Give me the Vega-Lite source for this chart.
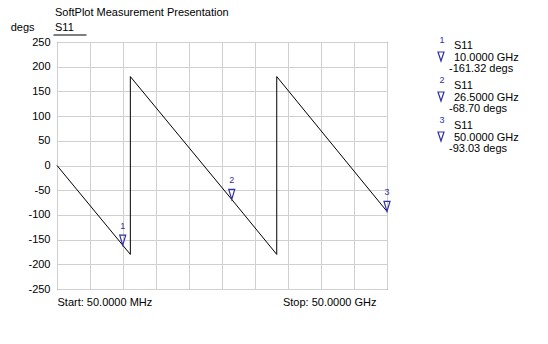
{
  "$schema": "https://vega.github.io/schema/vega-lite/v6.json",
  "padding": {"left": 9, "top": 6, "right": 5, "bottom": 5},
  "bounds": "flush",
  "spacing": 54,
  "background": "white",
  "datasets": {
    "trace": [
      {"i": 0, "trace": "S11", "f": 0.05, "phase": 0},
      {"i": 1, "trace": "S11", "f": 10, "phase": -161.32},
      {"i": 2, "trace": "S11", "f": 11.15, "phase": -180},
      {"i": 3, "trace": "S11", "f": 11.15, "phase": 180},
      {"i": 4, "trace": "S11", "f": 26.5, "phase": -68.7},
      {"i": 5, "trace": "S11", "f": 33.31, "phase": -180},
      {"i": 6, "trace": "S11", "f": 33.31, "phase": 180},
      {"i": 7, "trace": "S11", "f": 50, "phase": -93.03}
    ],
    "markers": [
      {"m": 1, "trace": "S11", "f": 10, "v": -161.32, "freq": "10.0000 GHz", "val": "-161.32 degs"},
      {"m": 2, "trace": "S11", "f": 26.5, "v": -68.7, "freq": "26.5000 GHz", "val": "-68.70 degs"},
      {"m": 3, "trace": "S11", "f": 50, "v": -93.03, "freq": "50.0000 GHz", "val": "-93.03 degs"}
    ]
  },
  "config": {
    "font": "Liberation Sans",
    "view": {"stroke": null},
    "axis": {"labelFontSize": 11, "labelColor": "#000", "titleColor": "#000", "gridColor": "#d0d0d0", "gridWidth": 1}
  },
  "hconcat": [
    {
      "width": 330,
      "height": 247,
      "view": {"stroke": "#333", "strokeWidth": 1},
      "title": {
        "text": "SoftPlot Measurement Presentation",
        "subtitle": "S11",
        "anchor": "start",
        "frame": "group",
        "fontSize": 11,
        "fontWeight": "normal",
        "color": "#000",
        "subtitleFontSize": 11,
        "subtitleColor": "#000",
        "subtitlePadding": 4,
        "offset": -12,
        "dx": -2
      },
      "layer": [
        {
          "data": {"name": "trace"},
          "mark": {"type": "line", "strokeWidth": 1},
          "encoding": {
            "x": {
              "field": "f", "type": "quantitative",
              "scale": {"domain": [0.05, 50], "nice": false, "zero": false},
              "axis": {
                "values": [0.05, 5.045, 10.04, 15.035, 20.03, 25.025, 30.02, 35.015, 40.01, 45.005, 50],
                "tickCount": 30,
                "grid": true, "ticks": false, "domain": false, "title": null,
                "labelExpr": "datum.value < 1 ? 'Start: 50.0000 MHz' : (datum.value > 49 ? 'Stop: 50.0000 GHz' : '')",
                "labelFlush": true, "labelOverlap": false, "labelBound": false,
                "labelPadding": 7,
                "labelOffset": {"condition": {"test": "datum.value > 49", "value": -11}, "value": 0}
              }
            },
            "y": {
              "field": "phase", "type": "quantitative",
              "scale": {"domain": [-250, 250], "nice": false, "zero": false},
              "axis": {
                "values": [-250, -200, -150, -100, -50, 0, 50, 100, 150, 200, 250],
                "tickCount": 30,
                "labelExpr": "'' + datum.value",
                "labelOverlap": false,
                "grid": true, "ticks": false, "domain": false, "labelPadding": 7,
                "title": "degs", "titleAngle": 0, "titleAlign": "right", "titleBaseline": "middle",
                "titleX": -23, "titleY": -15, "titleFontWeight": "normal", "titleFontSize": 11
              }
            },
            "order": {"field": "i", "type": "quantitative"},
            "color": {
              "field": "trace", "type": "nominal",
              "scale": {"range": ["#000000"]},
              "legend": {
                "orient": "none", "legendX": -4, "legendY": -24, "title": null,
                "labelExpr": "''", "symbolType": "stroke", "symbolSize": 1089,
                "symbolStrokeWidth": 1, "padding": 0, "symbolOffset": 0
              }
            }
          }
        },
        {
          "data": {"name": "markers"},
          "mark": {"type": "point", "shape": "M-0.3,-1L0.3,-1L0,0Z", "size": 400, "filled": false, "color": "#3030a8", "strokeWidth": 1.2, "opacity": 1},
          "encoding": {
            "x": {"field": "f", "type": "quantitative"},
            "y": {"field": "v", "type": "quantitative"}
          }
        },
        {
          "data": {"name": "markers"},
          "mark": {"type": "text", "dy": -19, "fontSize": 9, "color": "#3030a8", "baseline": "middle", "align": "center"},
          "encoding": {
            "x": {"field": "f", "type": "quantitative"},
            "y": {"field": "v", "type": "quantitative"},
            "text": {"field": "m", "type": "nominal"}
          }
        }
      ]
    },
    {
      "width": 100,
      "height": 120,
      "data": {"name": "markers"},
      "encoding": {
        "y": {"field": "m", "type": "ordinal", "axis": null},
        "x": {"datum": 0, "type": "quantitative", "scale": {"domain": [0, 1]}, "axis": null}
      },
      "layer": [
        {
          "mark": {"type": "text", "dx": 1, "dy": -22, "fontSize": 9, "color": "#3030a8", "align": "center", "baseline": "middle"},
          "encoding": {"text": {"field": "m", "type": "nominal"}}
        },
        {
          "mark": {"type": "point", "shape": "M-0.75,-2.5L0.75,-2.5L0,-0.25Z", "size": 64, "filled": false, "color": "#3030a8", "strokeWidth": 1.2, "opacity": 1}
        },
        {
          "mark": {"type": "text", "dx": 13, "dy": -16, "fontSize": 11, "color": "#000", "align": "left", "baseline": "middle"},
          "encoding": {"text": {"field": "trace", "type": "nominal"}}
        },
        {
          "mark": {"type": "text", "dx": 13, "dy": -4, "fontSize": 11, "color": "#000", "align": "left", "baseline": "middle"},
          "encoding": {"text": {"field": "freq", "type": "nominal"}}
        },
        {
          "mark": {"type": "text", "dx": 8, "dy": 7, "fontSize": 11, "color": "#000", "align": "left", "baseline": "middle"},
          "encoding": {"text": {"field": "val", "type": "nominal"}}
        }
      ]
    }
  ]
}
